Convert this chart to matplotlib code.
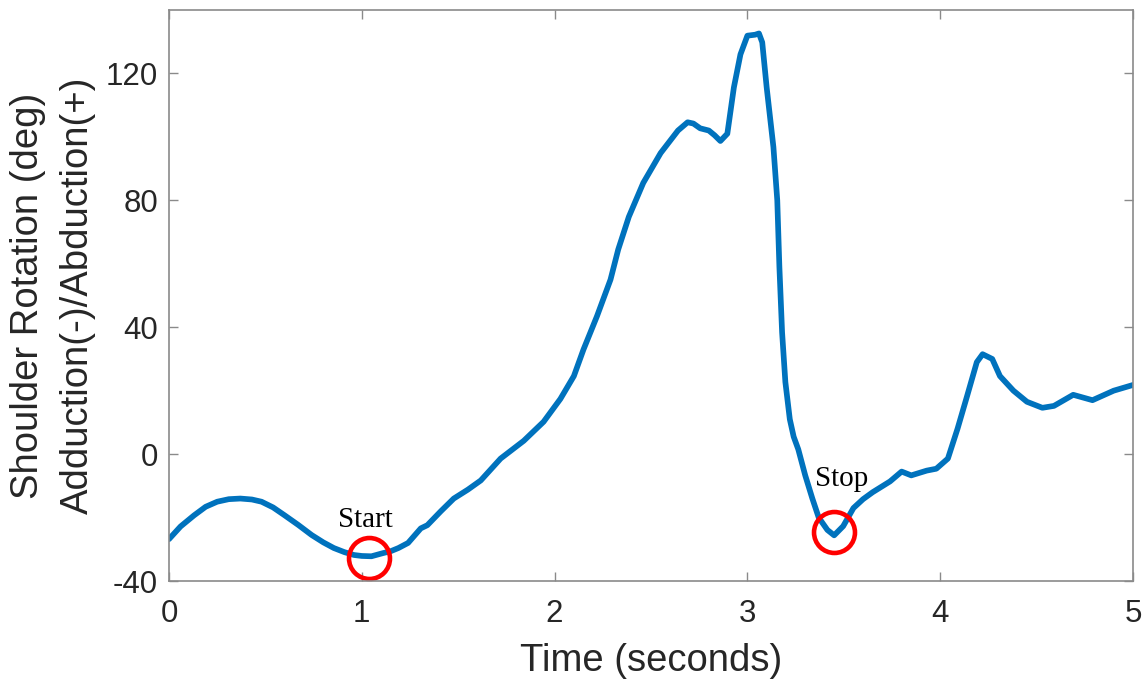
import matplotlib.pyplot as plt

plt.rcParams['font.family'] = ['Liberation Sans', 'DejaVu Sans']
plt.rcParams['axes.unicode_minus'] = False

# shoulder angle trace (time in s, angle in deg)
time_s = [0.0, 0.06, 0.13, 0.19, 0.25, 0.31, 0.37, 0.43, 0.48, 0.54, 0.6, 0.67,
          0.74, 0.8, 0.855, 0.91, 0.96, 1.0, 1.05, 1.11, 1.15, 1.19, 1.24,
          1.306, 1.34, 1.41, 1.477, 1.55, 1.617, 1.72, 1.84, 1.943, 2.03,
          2.10, 2.15, 2.22, 2.29, 2.33, 2.385, 2.46, 2.55, 2.64, 2.69, 2.72,
          2.755, 2.80, 2.83, 2.86, 2.896, 2.93, 2.964, 3.0, 3.04, 3.06, 3.077,
          3.10, 3.135, 3.155, 3.166, 3.18, 3.197, 3.22, 3.24, 3.264, 3.30,
          3.337, 3.37, 3.415, 3.45, 3.497, 3.55, 3.6, 3.65, 3.74, 3.80, 3.85,
          3.93, 3.98, 4.04, 4.09, 4.14, 4.19, 4.22, 4.27, 4.31, 4.38, 4.45,
          4.53, 4.59, 4.69, 4.79, 4.90, 5.0]
angle = [-26.8, -22.8, -19.3, -16.6, -15.0, -14.2, -14.0, -14.3, -15.0, -16.8,
         -19.3, -22.3, -25.5, -27.8, -29.6, -30.9, -31.8, -32.1, -32.2, -31.2,
         -30.6, -29.6, -28.0, -23.4, -22.4, -18.0, -14.0, -11.2, -8.3, -1.4,
         4.2, 10.2, 17.4, 24.6, 33.0, 43.5, 55.0, 64.5, 74.8, 85.5, 94.9, 102.0,
         104.6, 104.2, 102.7, 102.0, 100.5, 98.7, 101.0, 115.6, 126.0, 131.9,
         132.2, 132.6, 129.8, 115.6, 96.8, 80.0, 59.0, 38.4, 22.7, 11.0, 5.5,
         1.5, -6.7, -14.0, -20.0, -23.9, -25.6, -22.7, -17.0, -14.2, -12.0,
         -8.6, -5.5, -6.7, -5.2, -4.6, -1.4, 8.0, 18.4, 29.0, 31.5, 30.0, 24.6,
         20.0, 16.5, 14.6, 15.2, 18.7, 17.0, 20.0, 21.8]

# movement start / stop markers
event_t = [1.036, 3.45]
event_angle = [-32.8, -24.6]
event_names = ['Start', 'Stop']
event_text_pos = [(1.02, -23.0), (3.49, -10.2)]

fig = plt.figure(figsize=(11.45, 6.83), dpi=100)
ax = fig.add_axes([0.1476, 0.1493, 0.8419, 0.8361])

ax.plot(time_s, angle, color='#0072BD', linewidth=4.1,
        solid_joinstyle='round', solid_capstyle='round')
ax.plot(event_t, event_angle, 'o', markersize=29.5, markerfacecolor='none',
        markeredgecolor='#ff0000', markeredgewidth=3.3)
for name, (tx, ty) in zip(event_names, event_text_pos):
    ax.text(tx, ty, name, family='Liberation Serif', fontsize=21,
            ha='center', va='baseline', color='black')

ax.set_xlim(0, 5)
ax.set_ylim(-40, 140)
ax.set_xticks([0, 1, 2, 3, 4, 5])
ax.set_yticks([-40, 0, 40, 80, 120])

for s in ax.spines.values():
    s.set_color('#8a8a8a')
    s.set_linewidth(1.2)
ax.tick_params(direction='in', length=6.5, width=1.0, color='#8a8a8a',
               labelsize=22.5, labelcolor='#262626', top=True, right=True)
ax.tick_params(axis='x', pad=13)
ax.tick_params(axis='y', pad=8)

ax.set_xlabel('Time (seconds)', fontsize=27.5, color='#262626', labelpad=10)
ax.set_ylabel('Shoulder Rotation (deg)\nAdduction(-)/Abduction(+)',
              fontsize=27.5, color='#262626', labelpad=7, linespacing=1.5)

fig.savefig('out.png', dpi=100)
